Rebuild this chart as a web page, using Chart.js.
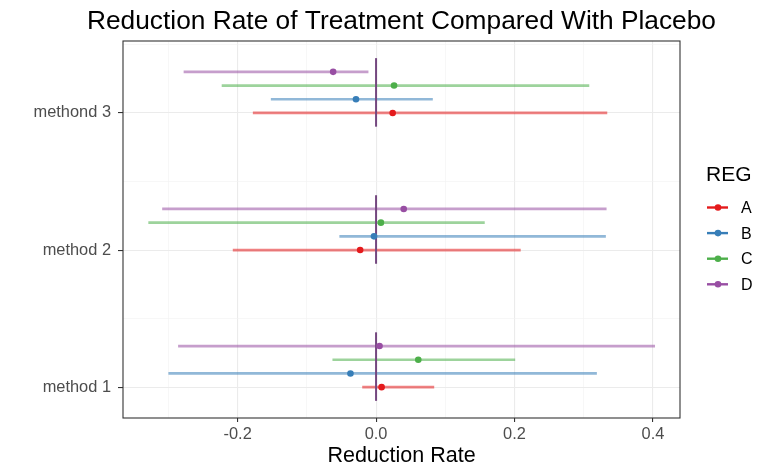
<!DOCTYPE html>
<html>
<head>
<meta charset="utf-8">
<script src="https://cdn.jsdelivr.net/npm/chart.js@4.4.1/dist/chart.umd.min.js"></script>
<style>
  html, body { margin: 0; padding: 0; background: #fff; }
  #wrap { width: 770px; height: 475px; position: relative; }
</style>
</head>
<body>
<div id="wrap"><canvas id="forest"></canvas></div>
<script>
// categories on the y axis (bottom to top) and the colour groups
var methods = ['method 1', 'method 2', 'methond 3'];
var regs = ['A', 'B', 'C', 'D'];
var regColors = ['#E41A1C', '#377EB8', '#4DAF4A', '#984EA3'];

// estimate and interval ends, one value per method
var estA = [0.008, -0.023, 0.024];
var lowA = [-0.020, -0.207, -0.178];
var highA = [0.084, 0.209, 0.334];

var estB = [-0.037, -0.003, -0.029];
var lowB = [-0.300, -0.053, -0.152];
var highB = [0.319, 0.332, 0.082];

var estC = [0.061, 0.007, 0.026];
var lowC = [-0.063, -0.329, -0.223];
var highC = [0.201, 0.157, 0.308];

var estD = [0.005, 0.040, -0.062];
var lowD = [-0.286, -0.309, -0.278];
var highD = [0.403, 0.333, -0.011];

var xTicks = [-0.3, -0.2, -0.1, 0, 0.1, 0.2, 0.3, 0.4];
var yTicks = [1, 1.5, 2, 2.5, 3, 3.5];

var TITLE = 'Reduction Rate of Treatment Compared With Placebo';
var X_TITLE = 'Reduction Rate';
var LEGEND_TITLE = 'REG';
var FONT = '"Liberation Sans", Arial, sans-serif';

var estimates = [estA, estB, estC, estD];
var lows = [lowA, lowB, lowC, lowD];
var highs = [highA, highB, highC, highD];

var DODGE = 0.1;   // vertical step between groups inside one method

function alpha(hex, a) {
    var n = parseInt(hex.slice(1), 16);
    return 'rgba(' + (n >> 16) + ',' + ((n >> 8) & 255) + ',' + (n & 255) + ',' + a + ')';
}

function isMajorX(v) {
    return Math.abs(Math.round(v * 10)) % 2 === 0;
}

var datasets = [];

// interval lines
regs.forEach(function(r, k) {
    methods.forEach(function(m, i) {
        var y = i + 1 + k * DODGE;
        datasets.push({
            data: [{x: lows[k][i], y: y}, {x: highs[k][i], y: y}],
            showLine: true,
            borderColor: alpha(regColors[k], 0.55),
            borderWidth: 2.7,
            pointRadius: 0,
            borderCapStyle: 'butt',
            order: 3
        });
    });
});

// reference line at zero for each method
methods.forEach(function(m, i) {
    datasets.push({
        data: [{x: 0, y: i + 1 - DODGE}, {x: 0, y: i + 1 + 4 * DODGE}],
        showLine: true,
        borderColor: '#74477F',
        borderWidth: 2,
        pointRadius: 0,
        order: 2
    });
});

// point estimates
regs.forEach(function(r, k) {
    datasets.push({
        label: r,
        data: estimates[k].map(function(v, i) { return {x: v, y: i + 1 + k * DODGE}; }),
        showLine: false,
        pointRadius: 3.3,
        pointBorderWidth: 0,
        pointBackgroundColor: regColors[k],
        pointBorderColor: regColors[k],
        order: 1
    });
});

var decor = {
    id: 'decor',
    afterDraw: function(chart) {
        var ctx = chart.ctx;
        var a = chart.chartArea;
        ctx.save();

        ctx.strokeStyle = '#333333';
        ctx.lineWidth = 1.1;
        ctx.strokeRect(a.left, a.top, a.right - a.left, a.bottom - a.top);

        ctx.fillStyle = '#000000';
        ctx.textAlign = 'center';
        ctx.textBaseline = 'alphabetic';
        ctx.font = '26.3px ' + FONT;
        ctx.fillText(TITLE, (a.left + a.right) / 2, 28.5);

        // legend
        ctx.textAlign = 'left';
        ctx.font = '21px ' + FONT;
        ctx.fillText(LEGEND_TITLE, 706, 181);
        ctx.font = '16px ' + FONT;
        ctx.textBaseline = 'middle';
        regs.forEach(function(r, k) {
            var y = 207.5 + k * 25.6;
            ctx.strokeStyle = regColors[k];
            ctx.lineWidth = 2.4;
            ctx.beginPath();
            ctx.moveTo(707, y);
            ctx.lineTo(728, y);
            ctx.stroke();
            ctx.fillStyle = regColors[k];
            ctx.beginPath();
            ctx.arc(718, y, 3.3, 0, Math.PI * 2);
            ctx.fill();
            ctx.fillStyle = '#000000';
            ctx.fillText(r, 741, y + 1);
        });
        ctx.restore();
    }
};

new Chart(document.getElementById('forest').getContext('2d'), {
    type: 'scatter',
    data: { datasets: datasets },
    plugins: [decor],
    options: {
        responsive: true,
        maintainAspectRatio: false,
        animation: false,
        layout: { padding: { left: 0, right: 90, top: 41, bottom: 0 } },
        plugins: {
            legend: { display: false },
            tooltip: { enabled: false },
            title: { display: false }
        },
        scales: {
            x: {
                type: 'linear',
                min: -0.3656,
                max: 0.4391,
                afterBuildTicks: function(scale) {
                    scale.ticks = xTicks.map(function(v) { return {value: v}; });
                },
                afterFit: function(scale) { scale.height = 57; },
                border: { display: false },
                grid: {
                    color: function(c) { return c.tick && !isMajorX(c.tick.value) ? '#F2F2F2' : '#EBEBEB'; },
                    lineWidth: function(c) { return c.tick && !isMajorX(c.tick.value) ? 0.6 : 1.1; },
                    tickColor: function(c) { return c.tick && isMajorX(c.tick.value) ? '#333333' : 'rgba(0,0,0,0)'; },
                    tickLength: 4,
                    tickWidth: 1.1
                },
                ticks: {
                    autoSkip: false,
                    maxRotation: 0,
                    padding: 3,
                    color: '#4D4D4D',
                    font: { family: FONT, size: 16.4 },
                    callback: function(v) { return isMajorX(v) ? v.toFixed(1) : ''; }
                },
                title: {
                    display: true,
                    text: X_TITLE,
                    color: '#000000',
                    font: { family: FONT, size: 21.5 },
                    padding: { top: 0, bottom: 6 }
                }
            },
            y: {
                type: 'linear',
                min: 0.775,
                max: 3.525,
                afterBuildTicks: function(scale) {
                    scale.ticks = yTicks.map(function(v) { return {value: v}; });
                },
                afterFit: function(scale) { scale.width = 123; },
                border: { display: false },
                grid: {
                    color: function(c) { return c.tick && c.tick.value % 1 !== 0 ? '#F2F2F2' : '#EBEBEB'; },
                    lineWidth: function(c) { return c.tick && c.tick.value % 1 !== 0 ? 0.6 : 1.1; },
                    tickColor: function(c) { return c.tick && c.tick.value % 1 === 0 ? '#333333' : 'rgba(0,0,0,0)'; },
                    tickLength: 5,
                    tickWidth: 1.1
                },
                ticks: {
                    autoSkip: false,
                    padding: 7,
                    color: '#4D4D4D',
                    font: { family: FONT, size: 16.4 },
                    callback: function(v) { return v % 1 === 0 ? methods[v - 1] : ''; }
                }
            }
        }
    }
});
</script>
</body>
</html>
